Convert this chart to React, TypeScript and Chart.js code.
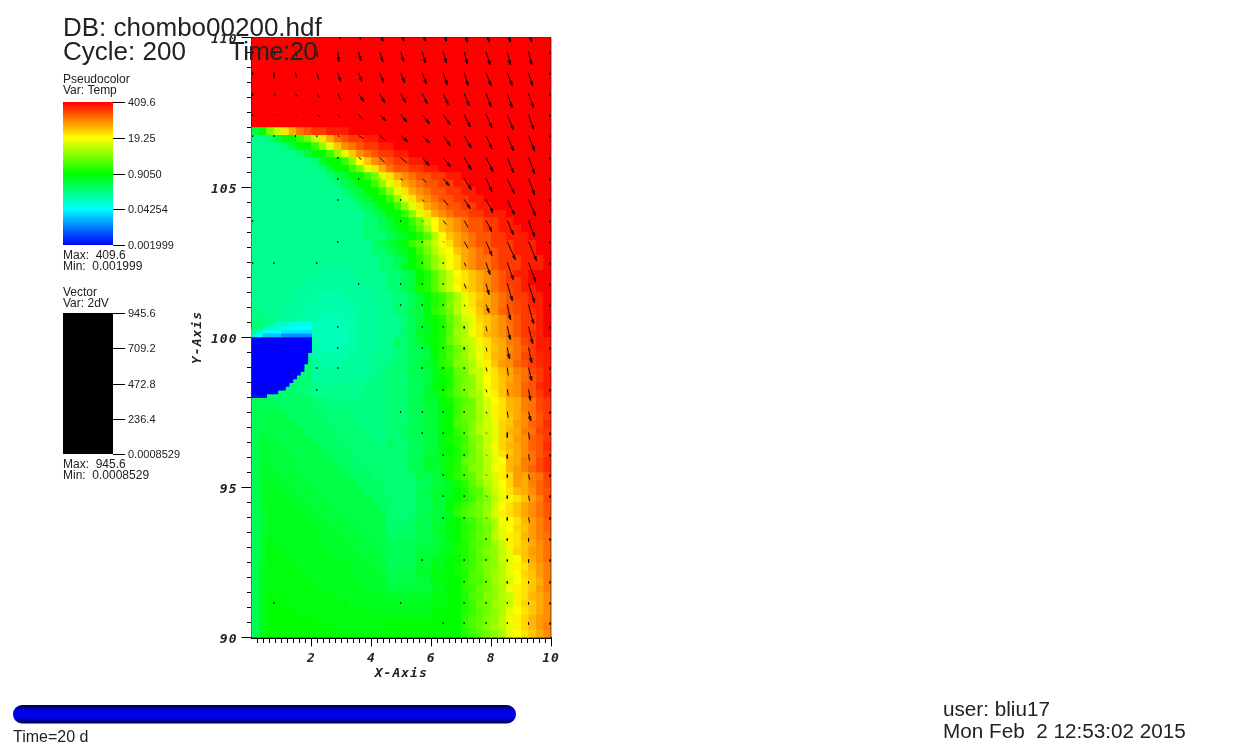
import React, { useEffect, useRef } from "react";
import { Chart, registerables } from "chart.js";

Chart.register(...registerables);

// Temperature field: one char per 0.25 x 0.25 cell on a colour-table level 0..36
// ('0' blue, '9' cyan, 'i' green, 'r' yellow, '#' red; an upper-case letter is that level + 0.5).
// Trailing cells omitted are saturated '#'.
const LEVELS = "0123456789abcdefghijklmnopqrstuvwxyz#";
const SATURATED_TOP_ROWS = 12;
const tempUpperRows: string[] = [
  "gimpsuwxyyzzz",
  "ddegiikmpsuwxyyzz",
  "ddddegiiknqtvwxyyzz",
  "ddddddegiiknqtvwxyyzz",
  "ddddddddegiiknrtvwxyyzz",
  "dddddddddegiikmqsuwxxyyzz",
  "ddddddddddefgiikmqsuvwxxyyzz",
  "dddddddddddefgiiknqsuvwxxyyzz",
  "ddddddddddddefgiiknqsuvwxxyyzz",
  "dddddddddddddefgiiknqsuvwxxyyzz",
  "ddddddddddddddefgiiknqsuvwxxyyzz",
  "dddddddddddddddefgiiknqsuvwxxyyzzz",
  "dddddddddddddddeefgiikmprtuvwxxyyzz",
  "dddddddddddddddeefghijlortuvwxxyyzzz",
  "dddddddddddddddeeefghijlortuvwxxyyzzz",
  "ddddddddddddddddefghiklnprsuvwxxyyyzzz",
  "ddddddddddddddddeefghikmoqrtuvwxxyyzzz",
  "dddddddddddddddddeefgijlnprsuvwwxyyyzzz",
  "dddddddddCCCCddddeefhijlnprsuvwwxyyyzzz",
];
// Lower rows, columns 0-17 (left of the front)
const tempLeftRows: string[] = [
  "ddddddddCCCCCCdddd",
  "dddddddCCCCCCCCddd",
  "ddddddCCCCCCCCCCdd",
  "dddddCCCCcccCCCCCd",
  "ddddCCCCcccccCCCCd",
  "DdddCCCcccccccCCCd",
  "DDddCCcccBBBccCCCd",
  "eDDdCCccBBBBBcCCCd",
  "eeDDdCccBBBBBcCCCd",
  "eeeeeeeecBBBBcCCCd",
  "eeeeeeeecBBBccCCCd",
  "eeeeeeeecccccCCCdd",
  "eeeeeeeeCcccCCCCdd",
  "eeeeeeeeCCCCCCCCdD",
  "eeeeeeeeCCCCCCCdDD",
  "eeeeeeeedddddddDDD",
  "eeeeeeeedddddddDDD",
  "fffEEEEEeeDDDDDDDD",
  "ffffEEEEeeDDDDDDDD",
  "fFFFFEEEEeeeeDDDDD",
  "fFFFFFEEEEeeeeDDDD",
  "fFFFFFFEEEEeeeeDDD",
  "fggFFFFFEEEeeeeeDD",
  "fgggFFFFFEEEeeeeeD",
  "fggggFFFFFEEEeeeee",
  "fGggggFFFFFEEEeeee",
  "fGGgggFFFFFFEEEeee",
  "fGGGgggFFFFFFEEEee",
  "fGGGGgggFFFFFFEEEe",
  "fGhhGGgggFFFFFFEEE",
  "fGhhhGGgggFFFFFFEE",
  "fghhhhGGgggFFFFFFE",
  "fghhhhhGGgggFFFFFF",
  "fghhhhhhGGgggFFFFF",
  "fghhhhhhGGGgggFFFF",
  "fGhhhhhhhGGGgggFFF",
  "fGHhhhhhhhGGGgggFF",
  "fGHHhhhhhhhGGGgggF",
  "fGHHHhhhhhhhGGGggg",
  "fhHHHHhhhhhhhGGGgg",
  "fhHHHHHhhhhhhhGGGg",
  "fhHHHHHHhhhhhhhGGG",
  "fhHHHHHHHhhhhhhhGG",
  "fhiHHHHHHHHhhhhhhG",
  "fhiiHHHHHHHHHhhhhh",
  "fhiiiiHHHHHHHHHHhh",
  "fhiiiiiiHHHHHHHHHH",
  "fhiiiiiiiiiHHHHHHH",
  "fhiiiiiiiiiiiiHHHH",
];
// Lower rows, columns 18-39 (the hot front)
const tempRightRows: string[] = [
  "eefgijlnprstuvwxyzz###",
  "eefgijlnpRstuvwxyyz###",
  "eefgIjlNprStuvwxXyzz##",
  "deefgijkmoqstuvwxyyzz#",
  "deefgHjkMoQsTuvwxXyzz#",
  "deeFgHJKmOqRtUvWxXyYz#",
  "ddefgHijLnPqStuvwxyyz#",
  "ddefghijlnoqstuvwxyyz#",
  "ddEfGhijlNoQsTuvwxyYz#",
  "dEeFgHIjLnOpRsTuVwXyzz",
  "deeffgijkmnpqstuvwxyzz",
  "deeffgHjKmNpQsTuVwXyYz",
  "DeefFGhJkMnoqRtUvWxyYz",
  "eeeFfghIjLmOpRsTuVwXyz",
  "eeeffghijlmnprstuvwxyz",
  "eeeffgHijlMnpQstUvWxYz",
  "eeeffGhIJlmNoQRtUvWxyz",
  "eeeffGgiIklmoPrsTuVwXy",
  "eeeffgGHikLmoPRsTuVwXy",
  "eeeffggHikLmopRstuvwxy",
  "eeeffggHiKlMoPqStUvWxY",
  "eeEFfggHiJlMOpqSTuVwXy",
  "eeeffggHIjkMnpqStUvWxy",
  "EeeffggHijKmNpQSTuvWxY",
  "eeeffgghijkmnpqstuvwxy",
  "eeeffGGhIjLmnOqrTuVwXY",
  "eeeFfGghIjKMnOQRTUVWXY",
  "eeeeFfgGIJKLnOPRSUuVwX",
  "eeeeffgghIJlMoPrSUuVWX",
  "eeeefFgGhijKlNpQsTuvWx",
  "eeeeffGgHijkLMOqRstUVX",
  "eeeeffggijklmnprstuvwx",
  "eeeefFgghJKLmNPRstuvwx",
  "eeeEFfggHiJkLMoQrsTUVW",
  "EEEEFfGGHijklmoqrStUVW",
  "EEEEFFgGHiJkLmOqRsTUVw",
  "ffffFFgGhIjKlmNpRstuvw",
  "ffffggghhIjkLMnpqStUvw",
  "ffffgghhiijklmnpqrtuvw",
  "ffffGgHhiIJkLMnOqRsTUV",
  "FFFFGGHHiIjKlMNOqrStUV",
  "FFFFggHHiiJKlmNOPrstuV",
  "gggggghhiiJkLmnoQRstUV",
  "GGGGGGHHiijKlMnOpRsTuv",
  "hhhhhhHHiijkLmNopRStuv",
  "hhhhhhiiiijklmnoqrstuv",
  "HHHHHHiiiiJKLMnOQRSTUv",
  "iiiiiiiiiiJKLMNOqRSTUV",
  "iiiiiiiiiijklmnoqrstuv",
];

// Refined patch around the cold sphere (0.125 x 0.125 cells, from y = 100.5 down, '.' = not refined)
const fineRows: string[] = [
  "......bbbbaaaaaa",
  "...cbbbaaa999999",
  "dcbaa99988888888",
  "c997777755555555",
  "0000000000000000",
  "0000000000000000",
  "0000000000000000",
  "0000000000000000",
  "000000000000000.",
  "000000000000000.",
  "000000000000000.",
  "00000000000000..",
  "00000000000000..",
  "0000000000000...",
  "000000000000....",
  "00000000000.....",
  "0000000000......",
  "000000000.......",
  "0000000.........",
  "0000............",
];

// Vector glyph sample positions and components
const arrowXs = [0.04, 0.75, 1.47, 2.18, 2.88, 3.58, 4.28, 4.98, 5.7, 6.4, 7.1, 7.83, 8.54, 9.25, 9.97];
const arrowYs = [110.28, 109.53, 108.83, 108.13, 107.43, 106.73, 106, 105.3, 104.6, 103.9, 103.2, 102.5, 101.8, 101.1, 100.37, 99.67, 99, 98.27, 97.53, 96.83, 96.1, 95.43, 94.73, 94, 93.3, 92.6, 91.87, 91.17, 90.5];
const arrowU: number[][] = [
  [0,1,1,1,2,2,3,3,3,3,3,3,3,3,0],
  [0,1,1,1,1,2,3,3,3,3,3,4,3,3,0],
  [0,0,1,2,3,3,4,4,4,4,4,5,5,4,0],
  [0,1,2,3,3,5,5,5,5,5,5,5,5,5,0],
  [0,1,1,3,3,4,6,6,7,7,6,6,6,5,0],
  [0,0,0,0,2,5,6,7,7,7,7,6,6,6,0],
  [0,0,0,0,0,3,5,6,7,7,7,7,6,6,0],
  [0,0,0,0,0,0,1,2,4,6,7,6,7,6,0],
  [0,0,0,0,0,0,0,0,2,5,6,7,7,7,0],
  [0,0,0,0,0,0,0,0,1,3,4,6,6,6,0],
  [0,0,0,0,0,0,0,0,0,1,4,6,8,8,0],
  [0,0,0,0,0,0,0,0,0,0,2,4,6,7,0],
  [0,0,0,0,0,0,0,0,0,0,2,3,5,6,0],
  [0,0,0,0,0,0,0,0,0,0,1,3,3,5,0],
  [0,0,0,0,0,0,0,0,0,0,0,1,3,4,0],
  [0,0,0,0,0,0,0,0,0,0,0,1,2,3,0],
  [0,0,0,0,0,0,0,0,0,0,0,1,1,3,0],
  [0,0,0,0,0,0,0,0,0,0,0,1,1,2,0],
  [0,0,0,0,0,0,0,0,0,0,0,1,1,2,0],
  [0,0,0,0,0,0,0,0,0,0,0,1,0,1,0],
  [0,0,0,0,0,0,0,0,0,0,0,1,0,1,0],
  [0,0,0,0,0,0,0,0,0,0,0,1,0,1,0],
  [0,0,0,0,0,0,0,0,0,0,0,1,0,1,0],
  [0,0,0,0,0,0,0,0,0,0,0,1,0,1,0],
  [0,0,0,0,0,0,0,0,0,0,0,0,0,0,0],
  [0,0,0,0,0,0,0,0,0,0,0,0,0,0,0],
  [0,0,0,0,0,0,0,0,0,0,0,0,0,0,0],
  [0,0,0,0,0,0,0,0,0,0,0,0,0,0,0],
  [0,0,0,0,0,0,0,0,0,0,0,0,0,0,0],
];
const arrowV: number[][] = [
  [2,4,5,7,10,11,12,12,12,12,13,13,13,13,2],
  [2,4,5,6,10,9,10,10,11,11,12,13,13,13,2],
  [2,5,5,7,9,9,10,10,11,12,13,13,13,13,2],
  [2,2,3,4,6,8,9,9,10,11,12,13,14,14,2],
  [1,1,1,2,3,5,6,7,9,10,12,13,15,15,2],
  [1,1,1,1,1,3,5,6,7,10,12,13,15,15,2],
  [0,0,0,0,1,2,5,5,8,9,12,14,15,16,2],
  [0,0,0,0,1,1,1,2,4,7,11,13,15,16,2],
  [0,0,0,0,1,0,0,1,2,6,9,13,15,16,2],
  [1,0,0,0,0,0,0,1,1,4,7,11,14,16,2],
  [0,0,0,0,1,0,0,0,1,1,7,14,18,19,2],
  [1,1,0,1,0,0,0,0,1,1,4,12,17,19,2],
  [0,0,0,0,0,1,0,1,1,1,5,11,17,19,2],
  [0,0,0,0,0,0,0,1,1,1,2,8,15,19,2],
  [0,0,0,0,1,0,0,0,1,1,2,5,13,17,2],
  [0,0,0,0,1,0,0,0,1,1,2,4,11,15,2],
  [0,0,0,1,1,0,0,0,1,1,1,4,8,13,2],
  [0,0,0,1,0,0,0,0,0,1,1,3,6,11,2],
  [0,0,0,0,0,0,0,1,1,1,1,2,6,9,2],
  [0,0,0,0,0,0,0,0,1,1,1,1,5,7,2],
  [0,0,0,0,0,0,0,0,0,1,1,1,4,6,2],
  [0,0,0,0,0,0,0,0,0,1,1,1,3,5,2],
  [0,0,0,0,0,0,0,0,0,1,1,1,3,5,2],
  [0,0,0,0,0,0,0,0,0,1,1,1,3,5,2],
  [0,0,0,0,0,0,0,0,0,0,0,1,2,3,2],
  [0,0,0,0,0,0,0,0,1,0,1,1,2,3,2],
  [0,0,0,0,0,0,0,0,0,0,1,1,2,2,2],
  [0,1,0,0,0,0,0,1,0,0,1,1,1,2,2],
  [0,0,0,0,0,0,0,0,0,1,1,1,1,2,2],
];
const ARROW_UNITS_PER_VALUE = 1 / 30;

// Axis ticks
const xMajorTicks = [2, 4, 6, 8, 10];
const yMajorTicks = [90, 95, 100, 105, 110];
const xAxisTitle = "X-Axis";
const yAxisTitle = "Y-Axis";

// Annotation text
const headerDb = "DB: chombo00200.hdf";
const headerCycle = "Cycle: 200";
const headerTime = "Time:20";
const pseudoLabels = ["409.6", "19.25", "0.9050", "0.04254", "0.001999"];
const vectorLabels = ["945.6", "709.2", "472.8", "236.4", "0.0008529"];
const timeLabel = "Time=20 d";
const userLabel = "user: bliu17";
const dateLabel = "Mon Feb  2 12:53:02 2015";

const hotStops = [
  [0, 0, 255],
  [0, 255, 255],
  [0, 255, 0],
  [255, 255, 0],
  [255, 0, 0],
];

function levelColor(ch: string): string {
  const lower = ch.toLowerCase();
  const level = Math.max(0, LEVELS.indexOf(lower)) + (lower !== ch ? 0.5 : 0);
  const t = (level / 36) * 4;
  const i = Math.min(3, Math.floor(t));
  const f = t - i;
  const a = hotStops[i];
  const b = hotStops[i + 1];
  return `rgb(${Math.round(a[0] + (b[0] - a[0]) * f)},${Math.round(a[1] + (b[1] - a[1]) * f)},${Math.round(a[2] + (b[2] - a[2]) * f)})`;
}

function buildCoarse() {
  const data: { x: number; y: number }[] = [];
  const colors: string[] = [];
  const lower = tempLeftRows.map((l, i) => l + tempRightRows[i]);
  const rows = [...Array(SATURATED_TOP_ROWS).fill(""), ...tempUpperRows, ...lower];
  rows.forEach((src, r) => {
    const row = src.padEnd(40, "#");
    for (let c = 0; c < 40; c++) {
      data.push({ x: 0.125 + c * 0.25, y: 110 - 0.125 - r * 0.25 });
      colors.push(levelColor(row[c]));
    }
  });
  return { data, colors };
}

function buildFine() {
  const data: { x: number; y: number }[] = [];
  const colors: string[] = [];
  fineRows.forEach((row, r) => {
    for (let c = 0; c < row.length; c++) {
      if (row[c] === ".") continue;
      data.push({ x: 0.0625 + c * 0.125, y: 100.5 - 0.0625 - r * 0.125 });
      colors.push(levelColor(row[c]));
    }
  });
  return { data, colors };
}

function buildArrows() {
  const pts: { x: number | null; y: number | null }[] = [];
  const headLen = 0.13;
  const headW = 0.04;
  arrowYs.forEach((y0, j) => {
    arrowXs.forEach((x0, i) => {
      const u = arrowU[j][i] * ARROW_UNITS_PER_VALUE;
      const v = -arrowV[j][i] * ARROW_UNITS_PER_VALUE;
      const len = Math.hypot(u, v);
      if (len === 0) return;
      const tx = x0 + u;
      const ty = y0 + v;
      pts.push({ x: x0, y: y0 }, { x: tx, y: ty });
      if (len > 0.28) {
        const ux = u / len;
        const uy = v / len;
        const bx = tx - ux * headLen;
        const by = ty - uy * headLen;
        pts.push({ x: bx - uy * headW, y: by + ux * headW });
        pts.push({ x: bx + uy * headW, y: by - ux * headW });
        pts.push({ x: tx, y: ty });
      }
      pts.push({ x: null, y: null });
    });
  });
  return pts;
}

const SANS = '"Liberation Sans", Arial, sans-serif';
const TEXT = "#222";
const AXIS_FONT = { family: '"DejaVu Sans Mono", monospace', size: 13, weight: "bold", style: "oblique" } as const;

function drawColorBar(ctx: CanvasRenderingContext2D, top: number, bottom: number, labels: string[], fill: string | CanvasGradient) {
  ctx.fillStyle = fill;
  ctx.fillRect(63, top, 50, bottom - top);
  ctx.strokeStyle = "#000";
  ctx.lineWidth = 1;
  ctx.fillStyle = TEXT;
  ctx.font = `11px ${SANS}`;
  ctx.textBaseline = "middle";
  labels.forEach((l, i) => {
    const y = Math.round(top + ((bottom - top) * i) / (labels.length - 1)) + 0.5;
    ctx.beginPath();
    ctx.moveTo(113, y);
    ctx.lineTo(125, y);
    ctx.stroke();
    ctx.fillText(l, 128, y);
  });
  ctx.textBaseline = "alphabetic";
}

const overlayPlugin = {
  id: "overlay",
  beforeDraw(chart: Chart) {
    (chart.ctx as any).letterSpacing = "1px";
  },
  afterDraw(chart: Chart) {
    const ctx = chart.ctx as any;
    const a = chart.chartArea;
    ctx.letterSpacing = "0px";
    ctx.save();
    ctx.strokeStyle = "rgba(90,0,0,0.7)";
    ctx.lineWidth = 1;
    ctx.beginPath();
    ctx.moveTo(a.left, a.top);
    ctx.lineTo(a.right, a.top);
    ctx.lineTo(a.right, a.bottom);
    ctx.stroke();

    ctx.textAlign = "left";
    ctx.textBaseline = "alphabetic";
    ctx.fillStyle = TEXT;
    ctx.font = `26px ${SANS}`;
    ctx.fillText(headerDb, 63, 36);
    ctx.fillText(headerCycle, 63, 60);
    ctx.letterSpacing = "-0.7px";
    ctx.fillText(headerTime, 229, 60);
    ctx.letterSpacing = "0px";

    ctx.font = `12px ${SANS}`;
    ctx.fillText("Pseudocolor", 63, 83);
    ctx.fillText("Var: Temp", 63, 94);
    const g = ctx.createLinearGradient(0, 245, 0, 102);
    hotStops.forEach((s, i) => g.addColorStop(i / 4, `rgb(${s[0]},${s[1]},${s[2]})`));
    drawColorBar(ctx, 102, 245, pseudoLabels, g);
    ctx.font = `12px ${SANS}`;
    ctx.fillText("Max:  409.6", 63, 259);
    ctx.fillText("Min:  0.001999", 63, 270);

    ctx.fillText("Vector", 63, 296);
    ctx.fillText("Var: 2dV", 63, 307);
    drawColorBar(ctx, 313, 454, vectorLabels, "#000");
    ctx.font = `12px ${SANS}`;
    ctx.fillText("Max:  945.6", 63, 468);
    ctx.fillText("Min:  0.0008529", 63, 479);

    const tube = ctx.createLinearGradient(0, 705, 0, 723.5);
    tube.addColorStop(0, "#000050");
    tube.addColorStop(0.3, "#0000d8");
    tube.addColorStop(0.5, "#0000ff");
    tube.addColorStop(0.7, "#0000d8");
    tube.addColorStop(1, "#000050");
    ctx.fillStyle = tube;
    ctx.beginPath();
    ctx.roundRect(13, 705, 503, 18.5, 9);
    ctx.fill();

    ctx.fillStyle = TEXT;
    ctx.font = `16px ${SANS}`;
    ctx.fillText(timeLabel, 13, 742);
    ctx.font = `20.7px ${SANS}`;
    ctx.fillText(userLabel, 943, 716);
    ctx.fillText(dateLabel, 943, 738);
    ctx.restore();
  },
};

export default function App() {
  const ref = useRef<HTMLCanvasElement>(null);
  useEffect(() => {
    if (!ref.current) return;
    const coarse = buildCoarse();
    const fine = buildFine();
    const xMinor: number[] = [];
    for (let k = 1; k < 50; k++) if (k % 10 !== 0) xMinor.push(k / 5);
    const yMinor: number[] = [];
    for (let k = 181; k < 220; k++) if (k % 10 !== 0) yMinor.push(k / 2);
    const hiddenAxis = (axis: string, pos: object, ticks: number[]) => ({
      type: "linear",
      axis,
      position: pos,
      min: axis === "x" ? 0 : 90,
      max: axis === "x" ? 10 : 110,
      afterBuildTicks: (s: any) => {
        s.ticks = ticks.map((value) => ({ value }));
      },
      ticks: { display: false, autoSkip: false },
      border: { display: false },
      grid: { drawOnChartArea: false, drawTicks: true, tickLength: 5, tickColor: "#000", tickWidth: 1 },
    });
    const layer = (label: string, src: { data: any[]; colors: string[] }, radius: number, order: number) => ({
      label,
      data: src.data,
      pointStyle: "rect",
      pointRadius: radius,
      pointBorderWidth: 0,
      pointBackgroundColor: src.colors,
      order,
    });
    const chart = new Chart(ref.current, {
      type: "scatter",
      data: {
        datasets: [
          {
            label: "Vector 2dV",
            data: buildArrows(),
            showLine: true,
            spanGaps: false,
            borderColor: "#000",
            borderWidth: 0.9,
            borderJoinStyle: "bevel",
            pointRadius: 0,
            order: 0,
          },
          layer("Temp fine", fine, 2.652, 1),
          layer("Temp fine underlay", fine, 3.36, 2),
          layer("Temp", coarse, 5.303, 3),
          layer("Temp underlay", coarse, 6.4, 4),
        ] as any,
      },
      plugins: [overlayPlugin as any],
      options: {
        responsive: false,
        animation: false,
        events: [],
        layout: { padding: { left: 189.5, top: 37.5, right: 708, bottom: 68.5 } },
        plugins: { legend: { display: false }, tooltip: { enabled: false } },
        scales: {
          x: {
            type: "linear",
            position: "bottom",
            min: 0,
            max: 10,
            afterBuildTicks: (s: any) => {
              s.ticks = xMajorTicks.map((value) => ({ value }));
            },
            afterFit: (s: any) => {
              s.height = 44;
            },
            title: { display: true, text: xAxisTitle, color: TEXT, font: AXIS_FONT, padding: 0 },
            ticks: { color: TEXT, font: AXIS_FONT, autoSkip: false, maxRotation: 0, padding: 4 },
            border: { display: true, color: "#000", width: 2 },
            grid: { drawOnChartArea: false, tickLength: 9, tickColor: "#000", tickWidth: 1 },
          },
          y: {
            type: "linear",
            position: "left",
            min: 90,
            max: 110,
            afterBuildTicks: (s: any) => {
              s.ticks = yMajorTicks.map((value) => ({ value }));
            },
            afterFit: (s: any) => {
              s.width = 62;
            },
            title: { display: true, text: yAxisTitle, color: TEXT, font: AXIS_FONT, padding: 0 },
            ticks: { color: TEXT, font: AXIS_FONT, autoSkip: false, maxRotation: 0, padding: 4, labelOffset: 2 },
            border: { display: true, color: "#000", width: 2 },
            grid: { drawOnChartArea: false, tickLength: 10, tickColor: "#000", tickWidth: 1 },
          },
          xMinor: hiddenAxis("x", { y: 90 }, xMinor),
          yMinor: hiddenAxis("y", { x: 0 }, yMinor),
        } as any,
      },
    });
    return () => chart.destroy();
  }, []);
  return (
    <canvas
      ref={ref}
      width={1259}
      height={750}
      style={{ position: "absolute", left: 0, top: 0, display: "block" }}
    />
  );
}
